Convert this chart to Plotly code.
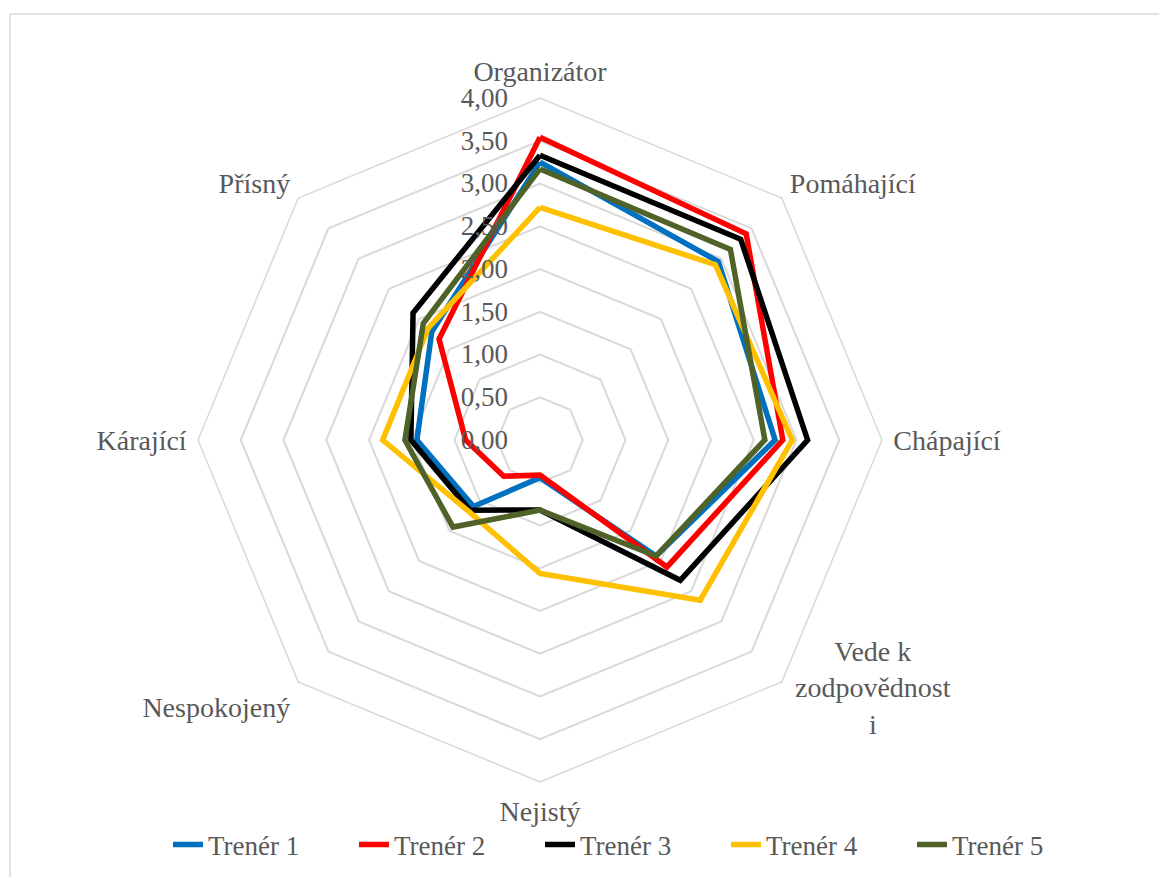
import plotly.graph_objects as go

# kategorie (po směru hodinových ručiček od vrcholu)
kategorie = ["Organizátor", "Pomáhající", "Chápající", "Vede k zodpovědnosti",
             "Nejistý", "Nespokojený", "Kárající", "Přísný"]
popisky = ["Organizátor", "Pomáhající", "Chápající", "",
           "Nejistý", "Nespokojený", "Kárající", "Přísný"]

trener_1 = [3.25, 2.95, 2.75, 1.92, 0.44, 1.10, 1.44, 1.79]
trener_2 = [3.54, 3.41, 2.84, 2.10, 0.41, 0.60, 0.87, 1.67]
trener_3 = [3.33, 3.32, 3.13, 2.32, 0.82, 1.16, 1.51, 2.10]
trener_4 = [2.72, 2.90, 2.95, 2.65, 1.56, 1.18, 1.84, 1.85]
trener_5 = [3.17, 3.15, 2.63, 1.92, 0.82, 1.44, 1.58, 1.93]

nazvy = ["Trenér 1", "Trenér 2", "Trenér 3", "Trenér 4", "Trenér 5"]
barvy = ["#0070C0", "#FF0000", "#000000", "#FFC000", "#4F6228"]

tick_vals = [0, 0.5, 1, 1.5, 2, 2.5, 3, 3.5, 4]
tick_text = ["0,00", "0,50", "1,00", "1,50", "2,00", "2,50", "3,00", "3,50", "4,00"]

W, H = 1167, 877
OFF = 8  # okraj stránky v prohlížeči
cx, cy, R = 540 - OFF, 440 - OFF, 342
FONT = "Liberation Serif"
SEDA = "#595959"

fig = go.Figure()
for nazev, hodnoty, barva in zip(nazvy, [trener_1, trener_2, trener_3, trener_4, trener_5], barvy):
    fig.add_trace(go.Scatterpolar(
        r=hodnoty + [hodnoty[0]],
        theta=kategorie + [kategorie[0]],
        mode="lines",
        name=nazev,
        line=dict(color=barva, width=5.5),
    ))

fig.update_layout(
    width=W, height=H,
    margin=dict(l=0, r=0, t=0, b=0),
    paper_bgcolor="white",
    font=dict(family=FONT, size=27, color=SEDA),
    polar=dict(
        domain=dict(x=[(cx - R) / W, (cx + R) / W],
                    y=[(H - cy - R) / H, (H - cy + R) / H]),
        bgcolor="white",
        gridshape="linear",
        radialaxis=dict(
            range=[0, 4], tickvals=tick_vals, ticktext=tick_text,
            angle=90, side="counterclockwise", tickangle=90,
            showline=False, ticks="outside", ticklen=22, tickcolor="rgba(0,0,0,0)",
            gridcolor="#d9d9d9", gridwidth=1.5,
            tickfont=dict(family=FONT, size=27, color=SEDA),
        ),
        angularaxis=dict(
            rotation=90, direction="clockwise",
            tickmode="array", tickvals=kategorie, ticktext=popisky,
            showgrid=False, showline=True,
            linecolor="#d9d9d9", linewidth=1.5,
            ticks="outside", ticklen=5, tickcolor="rgba(0,0,0,0)",
            tickfont=dict(family=FONT, size=28, color=SEDA),
        ),
    ),
    legend=dict(
        orientation="h", x=160 / W, xanchor="left", y=(H - 845 + OFF) / H, yanchor="middle",
        font=dict(family=FONT, size=27, color=SEDA),
        bgcolor="rgba(0,0,0,0)",
        entrywidth=141, entrywidthmode="pixels",
    ),
    annotations=[
        dict(text="Vede k<br>zodpovědnost<br>i", xref="paper", yref="paper",
             x=(873 - OFF) / W, y=(H - 688 + OFF) / H, xanchor="center", yanchor="middle",
             align="center", showarrow=False,
             font=dict(family=FONT, size=28, color=SEDA)),
    ],
    shapes=[
        dict(type="line", xref="paper", yref="paper", x0=(10 - OFF) / W, x1=1,
             y0=1 - (14 - OFF) / H, y1=1 - (14 - OFF) / H,
             line=dict(color="#d9d9d9", width=1.5)),
        dict(type="line", xref="paper", yref="paper", x0=(10 - OFF) / W, x1=(10 - OFF) / W,
             y0=0, y1=1 - (14 - OFF) / H,
             line=dict(color="#d9d9d9", width=1.5)),
    ],
)

fig.write_html("out.html")
